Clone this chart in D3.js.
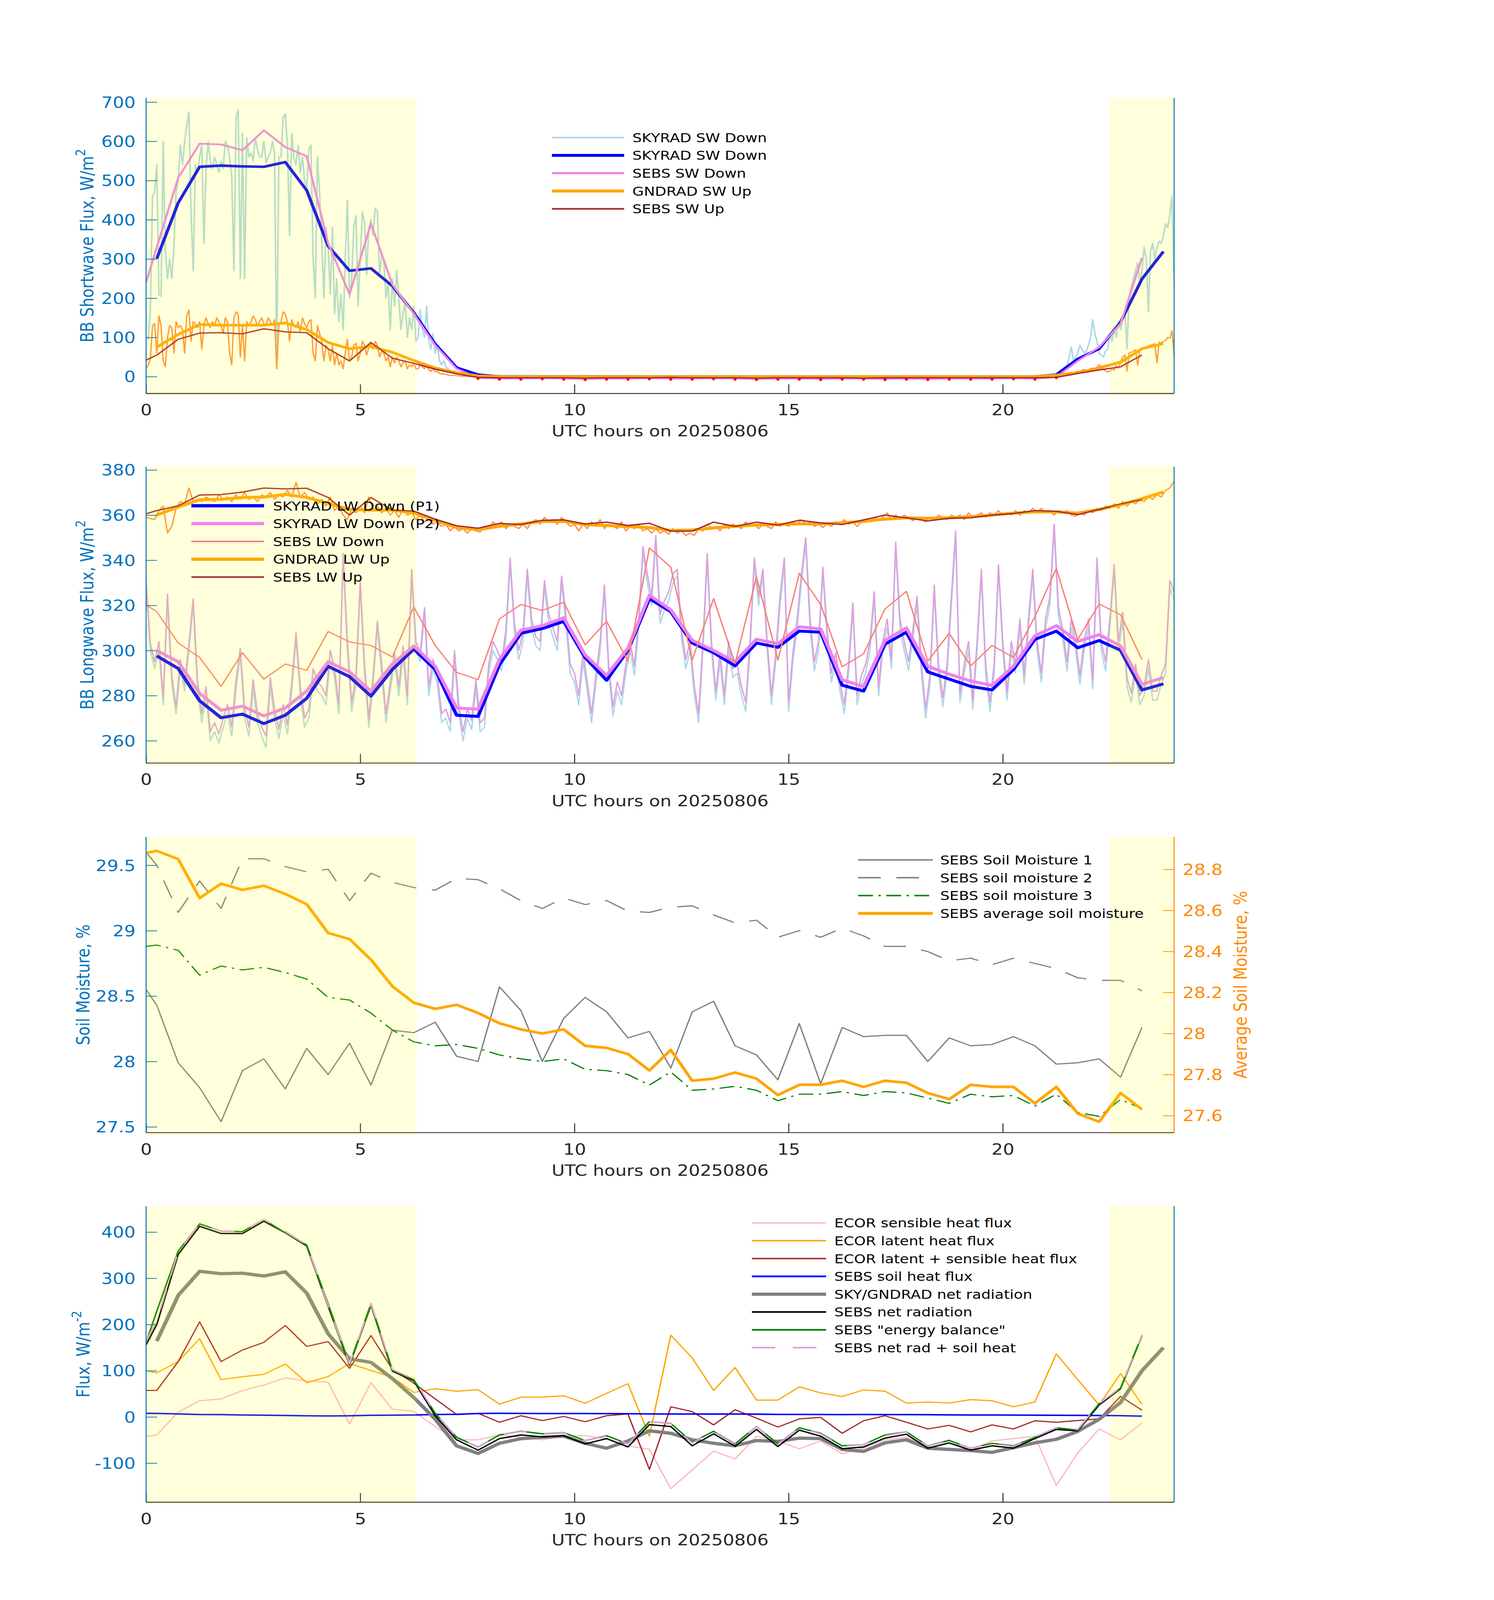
<!DOCTYPE html>
<html>
<head>
<meta charset="utf-8">
<script src="https://cdn.jsdelivr.net/npm/d3@7"></script>
<style>
  html, body { margin: 0; padding: 0; background: #fff; overflow: hidden; }
  svg { display: block; }
  text { font-family: "DejaVu Sans", sans-serif; }
</style>
</head>
<body>
<svg id="fig"></svg>
<script>
// ---------- time grids ----------
const halfHours = d3.range(0.25, 24, 0.5);                // 0.25 .. 23.75 (48)
const sebsHours = [0].concat(d3.range(0.25, 23.5, 0.5));  // 0, 0.25 .. 23.25 (48)
const swDayHours = d3.range(0, 151).map(i => i * 0.05);     // 0 .. 7.5
const swEveHours = d3.range(0, 61).map(i => 21 + i * 0.05); // 21 .. 24
const lwHours = d3.range(0, 241).map(i => i / 10);          // 0 .. 24

const xTicks = [0, 5, 10, 15, 20];
const shadeSpans = [[0, 6.32], [22.5, 24]];

// ---------- panel 1: shortwave ----------
const skySwDay = [
  100, 95, 170, 460, 470, 540, 210, 205, 600, 320, 250, 300, 250, 330, 470, 500, 590, 540, 600, 640,
  675, 420, 270, 540, 520, 560, 590, 340, 530, 600, 550, 530, 560, 540, 520, 550, 530, 600, 590, 560,
  510, 270, 660, 680, 250, 620, 250, 610, 560, 570, 550, 610, 580, 560, 560, 600, 545, 560, 570, 600,
  570, 30, 560, 560, 660, 670, 590, 360, 620, 560, 540, 590, 520, 560, 500, 480, 580, 590, 300, 200,
  560, 470, 350, 200, 380, 330, 210, 380, 160, 250, 140, 210, 120, 300, 450, 200, 250, 380, 410, 180,
  300, 420, 390, 260, 380, 400, 360, 430, 420, 260, 310, 300, 200, 240, 120, 250, 180, 270, 200, 120,
  160, 190, 100, 150, 120, 180, 90, 100, 170, 120, 100, 180, 90, 70, 110, 60, 80, 40, 30, 40,
  25, 20, 15, 12, 15, 10, 8, 6, 5, 4, 3
];
const skySwEve = [
  0, 1, 2, 3, 5, 7, 10, 14, 18, 22, 28, 50, 75, 40, 50, 60, 80, 70, 60, 65,
  80, 100, 145, 110, 90, 60, 55, 50, 65, 70, 110, 90, 120, 100, 140, 120, 150, 170, 72, 200,
  230, 250, 270, 290, 240, 270, 330, 300, 165, 320, 340, 300, 330, 345, 340, 360, 390, 380, 410, 460,
  240
];
const gndSwDay = [
  20, 30, 45, 130, 135, 60, 155, 130, 40, 25, 100, 130, 125, 60, 140, 125, 130, 120, 60, 155,
  170, 90, 140, 135, 125, 140, 70, 130, 150, 135, 125, 140, 130, 150, 140, 130, 110, 150, 140, 60,
  30, 150, 165, 160, 50, 130, 40, 140, 130, 140, 155, 145, 130, 140, 150, 135, 130, 150, 140, 130,
  145, 20, 130, 140, 165, 160, 140, 90, 145, 130, 125, 140, 115, 150, 135, 125, 140, 145, 60, 40,
  130, 110, 90, 40, 80, 70, 40, 80, 30, 60, 30, 40, 20, 60, 95, 40, 50, 80, 85, 40,
  60, 90, 80, 55, 75, 85, 70, 90, 80, 50, 65, 60, 40, 50, 25, 50, 35, 50, 40, 25,
  35, 40, 20, 30, 25, 35, 20, 20, 30, 25, 20, 30, 18, 14, 20, 12, 14, 8, 6, 8,
  5, 4, 3, 3, 3, 2, 2, 1, 1, 1, 0
];
const gndSwEve = [
  0, 0, 1, 1, 2, 2, 3, 4, 5, 6, 7, 9, 11, 10, 12, 14, 13, 16, 18, 15,
  17, 20, 22, 18, 24, 30, 27, 20, 14, 12, 14, 20, 16, 28, 22, 35, 50, 55, 14, 60,
  62, 65, 68, 29, 70, 72, 74, 76, 78, 80, 82, 84, 35, 88, 86, 90, 92, 100, 98, 117,
  56
];
const skySw30 = [
  301, 443, 535, 538, 536, 535, 547, 475, 333, 270, 276, 231, 163, 83, 23, 5,
  0, 0, 0, 0, 0, 0, 0, 0, 0, 0, 0, 0, 0, 0, 0, 0, 0, 0, 0, 0, 0, 0, 0, 0, 0, 0,
  5, 45, 71, 139, 249, 319
];
const sebsSwDown = [
  240, 330, 507, 594, 592, 577, 628, 585, 562, 340, 210, 390, 235, 160, 80, 20, -3,
  -5, -5, -4, -5, -6, -5, -5, -4, -5, -5, -4, -5, -6, -5, -5, -6, -5, -5, -6, -5, -6, -5, -5, -5, -4, -5,
  -1, 40, 75, 135, 303
];
const gndSw30 = [
  75, 108, 133, 131, 131, 131, 137, 120, 87, 71, 77, 62, 41, 22, 10, 2,
  0, 0, 0, 0, 0, 0, 0, 0, 0, 0, 0, 0, 0, 0, 0, 0, 0, 0, 0, 0, 0, 0, 0, 0, 0, 0,
  4, 10, 22, 37, 71, 84
];
const sebsSwUp = [
  42, 55, 95, 111, 112, 109, 122, 114, 112, 71, 40, 87, 47, 34, 19, 7, -2,
  -3, -3, -3, -3, -4, -3, -3, -3, -2, -3, -3, -3, -4, -3, -3, -3, -3, -4, -3, -3, -3, -3, -3, -3, -3, -3,
  -2, 8, 17, 25, 55
];

// ---------- panel 2: longwave ----------
const skyLwP1min = [
  328, 300, 292, 300, 276, 322, 285, 272, 292, 282,
  300, 320, 283, 268, 280, 260, 264, 259, 266, 272,
  262, 283, 298, 270, 262, 283, 268, 262, 257, 284,
  270, 261, 272, 263, 282, 305, 280, 266, 270, 288,
  282, 280, 276, 296, 288, 272, 340, 300, 273, 285,
  328, 290, 266, 285, 310, 290, 268, 282, 295, 280,
  298, 276, 333, 300, 295, 316, 280, 292, 285, 268,
  270, 264, 296, 272, 260, 270, 265, 283, 264, 266,
  290, 300, 296, 291, 305, 338, 308, 296, 304, 333,
  310, 302, 300, 328, 312, 306, 300, 330, 312, 290,
  286, 276, 295, 282, 268, 285, 300, 326, 290, 271,
  282, 276, 290, 300, 289, 310, 343, 330, 320, 348,
  312, 318, 322, 330, 333, 305, 292, 300, 280, 268,
  300, 340, 300, 278, 295, 276, 300, 288, 290, 280,
  273, 300, 338, 320, 333, 300, 276, 295, 320, 338,
  273, 295, 310, 330, 347, 310, 291, 300, 334, 305,
  286, 295, 282, 272, 290, 318, 276, 285, 290, 300,
  323, 280, 300, 310, 292, 345, 310, 300, 291, 305,
  320, 290, 270, 285, 326, 290, 275, 290, 320, 350,
  277, 290, 300, 274, 300, 333, 290, 273, 290, 335,
  300, 278, 300, 290, 310, 285, 310, 333, 300, 286,
  310, 320, 353, 315, 305, 291, 310, 300, 285, 300,
  310, 283, 338, 300, 291, 310, 335, 300, 313, 284,
  277, 290, 276, 280, 292, 278, 278, 285, 290, 328,
  322
];
const skyLwP2min = [
  331, 303, 295, 304, 279, 325, 289, 275, 296, 285,
  303, 323, 287, 272, 284, 264, 268, 263, 270, 276,
  266, 287, 301, 274, 266, 287, 272, 266, 262, 288,
  274, 265, 276, 267, 286, 308, 284, 270, 274, 292,
  286, 284, 280, 300, 292, 276, 343, 304, 277, 289,
  331, 294, 270, 289, 313, 294, 272, 286, 299, 284,
  302, 280, 336, 304, 299, 319, 284, 296, 289, 272,
  274, 268, 300, 276, 264, 274, 269, 287, 268, 270,
  294, 304, 300, 295, 309, 341, 312, 300, 308, 336,
  314, 306, 304, 331, 316, 310, 304, 333, 316, 294,
  290, 280, 299, 286, 272, 289, 304, 329, 294, 275,
  286, 280, 294, 304, 293, 314, 346, 334, 324, 351,
  316, 322, 326, 334, 336, 309, 296, 304, 284, 272,
  304, 343, 304, 282, 299, 280, 304, 292, 294, 284,
  277, 304, 341, 324, 336, 304, 280, 299, 324, 341,
  277, 299, 314, 334, 350, 314, 295, 304, 337, 309,
  290, 299, 286, 276, 294, 321, 280, 289, 294, 304,
  326, 284, 304, 314, 296, 348, 314, 304, 295, 309,
  324, 294, 274, 289, 329, 294, 279, 294, 324, 353,
  281, 294, 304, 278, 304, 336, 294, 277, 294, 338,
  304, 282, 304, 294, 314, 289, 314, 336, 304, 290,
  314, 324, 356, 319, 309, 295, 314, 304, 289, 304,
  314, 287, 341, 304, 295, 314, 338, 304, 317, 288,
  281, 294, 280, 284, 296, 282, 282, 289, 294, 331,
  326
];
const gndLwMin = [
  359, 358.5, 358, 362, 364, 352, 355, 363, 366, 365,
  372, 366, 367, 366, 368, 367, 366, 369, 367, 368,
  366, 369, 367, 370, 367, 368, 366, 369, 368, 370,
  367, 369, 368, 371, 368, 374.5, 368, 370, 367, 368,
  365, 367, 364, 368, 362, 364, 360, 358, 363, 361,
  364, 361, 368, 362, 364, 361, 363, 360, 362, 359,
  363, 360, 361, 358, 360, 357, 358, 356, 357, 355,
  356, 353, 355, 353, 354, 352, 354, 353, 352.5, 355,
  354, 357, 355, 357, 354, 356, 355, 354, 356, 354,
  357, 358, 356, 359, 357, 358, 356, 359, 357, 355,
  356, 353, 356, 354, 357, 355, 358, 354, 356, 355,
  354, 357, 353, 355, 354, 356, 353, 354, 352, 354,
  352, 353, 351.5, 354, 352, 353, 351, 352, 351, 354,
  353, 356, 354, 355, 353, 356, 354, 356, 355, 354,
  357, 355, 356, 354, 356, 355, 354, 357, 355, 356,
  355, 357, 356, 358, 356, 357, 355, 356, 354.5, 356,
  355, 357, 356, 358, 356, 357, 355, 357, 358, 357,
  359, 358, 359, 361, 358, 360, 358, 360, 359, 357.5,
  359, 358, 357, 359, 358, 360, 359, 358, 360, 359,
  360, 358, 361, 359, 360, 361, 359, 361, 360, 362,
  360, 361, 360, 362, 360, 362, 361, 363, 361, 363,
  361, 362, 360, 362, 361, 362, 360, 359.5, 361, 360,
  362, 361, 363, 362, 364, 363, 365, 363, 366, 364,
  366, 365, 367, 366, 368, 367, 369, 368, 371, 372,
  375
];
const skyLwP1 = [
  297.6, 292, 277.7, 270.2, 271.8, 267.6, 271.3, 278.8, 293, 288.4,
  279.8, 291.6, 300.6, 291.6, 271.3, 270.8, 293.7, 307.6, 309.7, 312.9,
  296.9, 286.8, 300.1, 323, 317.2, 303.3, 299, 293.2, 303.3, 301.4,
  308.6, 308.1, 284.6, 282, 302.8, 308.1, 290.5, 287.3, 284.1, 282.5,
  291.6, 304.9, 308.6, 301.2, 304.4, 300.1, 282.5, 285.2
];
const skyLwP2 = [
  300, 295, 281, 273.5, 275.3, 271, 274.5, 282, 295, 290.5,
  282, 294, 302, 293, 274.5, 274, 296, 309, 311, 314.5,
  298, 289, 301, 324.5, 318, 304.5, 300, 295, 305, 303,
  310.5, 309.5, 287, 284, 304.5, 310, 293, 289.5, 286.5, 284.5,
  293, 306.5, 311, 304, 307, 302, 285, 288
];
const sebsLwDown = [
  320.2, 317.2, 303.3, 296.9, 284.1, 299, 287.3, 294, 291.2, 308.4,
  303.8, 302.2, 297.1, 319.3, 302.2, 290.3, 287.1, 314, 320.4, 317.7,
  321.4, 302.5, 312.9, 295.3, 345.4, 336.9, 295.8, 323, 294.2, 332.6,
  295.8, 334.2, 320.4, 292.8, 298.5, 318.4, 326.2, 295.3, 307.6, 293.2,
  302.2, 296.9, 315, 336.4, 304.9, 320.6, 315.9, 296
];
const gndLwUp = [
  360, 363.6, 366.8, 367, 367.8, 368, 369.2, 367.8, 365.2, 362.5,
  362.2, 362.2, 360.9, 357.7, 354.5, 353.6, 355, 356.1, 357.2, 357.2,
  355.8, 355.4, 354.9, 354.5, 353.2, 353.4, 354.3, 355, 355.6, 355.8,
  356.1, 356.1, 356.6, 357.2, 358.2, 358.8, 358.6, 358.8, 359.3, 360,
  360.9, 361.4, 361.4, 360.9, 362.5, 364.6, 367.3, 370.3
];
const sebsLwUp = [
  360.6, 362, 364.1, 368.9, 369.1, 370.2, 372, 371.6, 371.9, 367.8,
  360, 367.8, 362.2, 361.8, 358.2, 355.3, 354.2, 356.3, 355.8, 357.7,
  357.9, 356.1, 356.9, 355.4, 356.4, 352.9, 352.9, 356.9, 355, 356.9,
  355.6, 357.7, 356.6, 355.8, 357.9, 360, 358.8, 357.4, 358.6, 358.8,
  360, 360.7, 362, 361.7, 360.2, 362.5, 365, 366.8
];

// ---------- panel 3: soil moisture ----------
const soilMoist1 = [
  28.55, 28.43, 27.99, 27.80, 27.54, 27.93, 28.02, 27.79, 28.10, 27.90,
  28.14, 27.82, 28.24, 28.22, 28.30, 28.04, 28.00, 28.57, 28.39, 28.00,
  28.33, 28.49, 28.38, 28.18, 28.23, 27.95, 28.38, 28.46, 28.12, 28.05,
  27.86, 28.29, 27.83, 28.26, 28.19, 28.20, 28.20, 28.00, 28.18, 28.12,
  28.13, 28.19, 28.12, 27.98, 27.99, 28.02, 27.88, 28.26
];
const soilMoist2 = [
  29.60, 29.50, 29.14, 29.38, 29.17, 29.55, 29.55, 29.49, 29.45, 29.47,
  29.23, 29.44, 29.37, 29.33, 29.31, 29.40, 29.39, 29.32, 29.23, 29.17,
  29.25, 29.20, 29.23, 29.15, 29.14, 29.18, 29.19, 29.12, 29.06, 29.08,
  28.95, 29.00, 28.95, 29.02, 28.96, 28.88, 28.88, 28.84, 28.77, 28.79,
  28.74, 28.79, 28.75, 28.71, 28.64, 28.62, 28.62, 28.54
];
const soilMoist3 = [
  28.88, 28.89, 28.85, 28.66, 28.73, 28.70, 28.72, 28.68, 28.63, 28.49,
  28.47, 28.37, 28.24, 28.15, 28.12, 28.13, 28.10, 28.05, 28.02, 28.00,
  28.02, 27.94, 27.93, 27.90, 27.82, 27.92, 27.78, 27.79, 27.81, 27.78,
  27.70, 27.75, 27.75, 27.77, 27.74, 27.77, 27.76, 27.72, 27.68, 27.75,
  27.73, 27.74, 27.66, 27.75, 27.61, 27.58, 27.71, 27.64
];
const soilMoistAvg = [
  28.88, 28.89, 28.85, 28.66, 28.73, 28.70, 28.72, 28.68, 28.63, 28.49,
  28.46, 28.36, 28.23, 28.15, 28.12, 28.14, 28.10, 28.05, 28.02, 28.00,
  28.02, 27.94, 27.93, 27.90, 27.82, 27.92, 27.77, 27.78, 27.81, 27.78,
  27.70, 27.75, 27.75, 27.77, 27.74, 27.77, 27.76, 27.71, 27.68, 27.75,
  27.74, 27.74, 27.66, 27.74, 27.61, 27.57, 27.71, 27.63
];

// ---------- panel 4: energy fluxes ----------
const ecorSensible = [
  -42.7, -39, 10.4, 35, 39, 57, 69, 84.4, 78, 75.5,
  -15.6, 74, 16.7, 12, -20.8, -49.5, -49.5, -39, -44, -49.5,
  -41.7, -40.6, -46.9, -62.5, -70.3, -155.2, -114.6, -74, -91, -41.7,
  -52, -69, -52, -79.7, -67.7, -49.5, -44, -62.5, -49.5, -72.9,
  -52, -46.9, -41.7, -148.4, -78, -26, -49.5, -13
];
const ecorLatent = [
  100, 95.3, 119.8, 169.3, 80.7, 87, 92.2, 114.6, 74, 87.5,
  115.6, 100.5, 86, 53, 61, 55.7, 58.9, 27.6, 42.7, 42.7,
  45.8, 29.7, 51, 71.9, -41.7, 177, 127.6, 57.3, 106.8, 36.5,
  36.5, 65, 52, 44.3, 58.3, 55.7, 30, 32.3, 30, 37.5,
  35, 21.9, 32.3, 136.5, 80.7, 26, 93.8, 27.1
];
const ecorLatSens = [
  57.3, 57.3, 119.8, 205.7, 119.8, 144.8, 161.5, 197.9, 152.6, 163,
  105.2, 176, 103.1, 72.9, 39, 5.2, 7.8, -11.5, 2.6, -7.8,
  1, -10.4, 2.6, 6.3, -113.5, 21.9, 11.5, -17.2, 15.6, -2.6,
  -21.9, -4.2, -1, -35.4, -8.3, 2.6, -11.5, -26, -18.2, -32.3,
  -17.2, -26, -8.3, -11.5, -7.8, -4.2, 44.3, 14.6
];
const sebsSoilHeat = [
  7.8, 7.5, 6.5, 5.2, 5, 4.2, 3.8, 3.1, 2.6, 2.1,
  2.6, 3.6, 3.8, 4.2, 5.2, 5.7, 7.3, 7.8, 7.5, 7.3,
  7.3, 7.3, 7.2, 7.0, 6.5, 6.3, 6.3, 6.2, 6.3, 6.0,
  5.5, 5.5, 5.2, 5.0, 5.2, 5.0, 5.0, 4.8, 4.5, 4.2,
  4.2, 4.0, 3.8, 3.6, 3.3, 3.1, 2.8, 1.6
];
const skyGndNetRad = [
  164, 263, 315, 310, 311, 305, 314, 268, 180, 126,
  118, 83, 42, -5, -62.5, -79, -57, -47, -44, -41.7,
  -57, -67.7, -52, -30, -35.4, -49.5, -57, -62.5, -51, -53,
  -45.8, -46.9, -70.3, -74.5, -56, -49.5, -67.7, -70.3, -72.9, -76.6,
  -66.7, -56, -48.4, -31.3, -5, 31.3, 100, 150
];
const sebsNetRad = [
  156, 200, 351.6, 412.5, 396.9, 396.9, 423.4, 398.4, 369.8, 239.6,
  112, 242, 99, 78, 2.6, -49.5, -71.9, -46.9, -39, -43.2,
  -40.6, -58.3, -46.9, -65, -16.7, -20.8, -62.5, -36.5, -63.5, -27,
  -64, -28.6, -41.7, -68.8, -65, -45.8, -37.5, -67.7, -56.3, -71.9,
  -62.5, -67.7, -46.9, -27, -30.2, 26, 61, 176
];
const sebsEnergyBal = [
  161, 229, 359, 417.7, 402, 401, 427, 398.4, 372, 245,
  114.6, 245, 101.6, 80.7, 7.8, -44, -65, -39, -31, -36.5,
  -34, -51, -40.6, -58.3, -10.4, -14, -54.7, -31, -58.3, -20.8,
  -58.3, -23.4, -35.4, -62.5, -60, -39, -32.3, -62.5, -51, -67.7,
  -57.3, -62.5, -44.3, -23.4, -28.6, 28.6, 62.5, 177
];
const sebsNetPlusSoil = [
  164, 208, 358, 417.7, 402, 401, 427, 401.5, 372.4, 241.7,
  114.6, 245.6, 102.8, 82.2, 7.8, -43.8, -64.6, -39.1, -31.5, -35.9,
  -33.3, -51, -39.7, -58, -10.2, -14.5, -56.2, -30.3, -57.2, -21,
  -58.5, -23.1, -36.5, -63.8, -59.8, -40.8, -32.5, -62.9, -51.8, -67.7,
  -58.3, -63.7, -43.1, -23.4, -26.9, 29.1, 63.8, 177.6
];

// ---------- layout (drawn in a 3825x4875 frame, fitted to the window) ----------
const W = 3825, H = 4875;
const plotLeft = 374, plotRight = 3006;
const tickFont = 46, legendFont = 38, legendStep = 54.3;
const blueAx = '#0072bd', orangeAx = '#ff8800', darkAx = '#262626';

const pair = (hs, vs) => hs.map((h, i) => [h, vs[i]]);

const panels = [
  {
    top: 298, bottom: 1199, yDomain: [-43.1, 710.9], yTicks: d3.range(0, 701, 100),
    ylabel: ['BB Shortwave Flux, W/m', '2'], ylabelX: 239,
    legend: { x0: 1413, x1: 1598, tx: 1619, y0: 419 },
    series: [
      { data: pair(swDayHours.concat(swEveHours), skySwDay.concat(skySwEve)), color: '#add8e6', width: 4, label: 'SKYRAD SW Down' },
      { data: pair(swDayHours.concat(swEveHours), gndSwDay.concat(gndSwEve)), color: '#ff9040', width: 3.5 },
      { data: pair(halfHours, skySw30), color: '#0000ff', width: 8, label: 'SKYRAD SW Down' },
      { data: pair(sebsHours, sebsSwDown), color: '#ee82ee', width: 5.5, label: 'SEBS SW Down', negMarks: true },
      { data: pair(halfHours, gndSw30), color: '#ffa500', width: 8, label: 'GNDRAD SW Up' },
      { data: pair(sebsHours, sebsSwUp), color: '#a52a2a', width: 4, label: 'SEBS SW Up' }
    ]
  },
  {
    top: 1422, bottom: 2325, yDomain: [250.1, 381.45], yTicks: d3.range(260, 381, 20),
    ylabel: ['BB Longwave Flux, W/m', '2'], ylabelX: 239,
    legend: { x0: 490, x1: 676, tx: 699, y0: 1541 },
    series: [
      { data: pair(lwHours, skyLwP1min), color: '#add8e6', width: 3.5 },
      { data: pair(lwHours, skyLwP2min), color: '#dda0dd', width: 3.5 },
      { data: pair(lwHours, gndLwMin), color: '#ff9040', width: 3.5 },
      { data: pair(halfHours, skyLwP1), color: '#0000ff', width: 9, label: 'SKYRAD LW Down (P1)' },
      { data: pair(halfHours, skyLwP2), color: '#ee82ee', width: 9, label: 'SKYRAD LW Down (P2)' },
      { data: pair(sebsHours, sebsLwDown), color: '#fa8072', width: 3.5, label: 'SEBS LW Down' },
      { data: pair(halfHours, gndLwUp), color: '#ffa500', width: 9, label: 'GNDRAD LW Up' },
      { data: pair(sebsHours, sebsLwUp), color: '#a52a2a', width: 4, label: 'SEBS LW Up' }
    ]
  },
  {
    top: 2550, bottom: 3451, yDomain: [27.456, 29.717], yTicks: [27.5, 28, 28.5, 29, 29.5],
    ylabel: ['Soil Moisture, %', null], ylabelX: 229,
    right: { domain: [27.517, 28.958], ticks: [27.6, 27.8, 28, 28.2, 28.4, 28.6, 28.8], label: 'Average Soil Moisture, %', labelX: 3192 },
    legend: { x0: 2197, x1: 2388, tx: 2407, y0: 2620 },
    series: [
      { data: pair(sebsHours, soilMoist1), color: '#808080', width: 3.5, label: 'SEBS Soil Moisture 1' },
      { data: pair(sebsHours, soilMoist2), color: '#808080', width: 3.5, dash: '58,40', label: 'SEBS soil moisture 2' },
      { data: pair(sebsHours, soilMoist3), color: '#008000', width: 3.5, dash: '38,14,6,14', label: 'SEBS soil moisture 3' },
      { data: pair(sebsHours, soilMoistAvg), color: '#ffa500', width: 8, right: true, label: 'SEBS average soil moisture' }
    ]
  },
  {
    top: 3675, bottom: 4577, yDomain: [-184.5, 456.1], yTicks: d3.range(-100, 401, 100),
    ylabel: ['Flux, W/m', '-2'], ylabelX: 229,
    legend: { x0: 1925, x1: 2115, tx: 2136, y0: 3726 },
    series: [
      { data: pair(sebsHours, ecorSensible), color: '#ffb6c1', width: 3.5, label: 'ECOR sensible heat flux' },
      { data: pair(sebsHours, ecorLatent), color: '#ffa500', width: 3.5, label: 'ECOR latent heat flux' },
      { data: pair(sebsHours, ecorLatSens), color: '#a52a2a', width: 3.5, label: 'ECOR latent + sensible heat flux' },
      { data: pair(sebsHours, sebsSoilHeat), color: '#0000ff', width: 4.5, label: 'SEBS soil heat flux' },
      { data: pair(halfHours, skyGndNetRad), color: '#808080', width: 10, label: 'SKY/GNDRAD net radiation' },
      { data: pair(sebsHours, sebsNetRad), color: '#000000', width: 4, label: 'SEBS net radiation' },
      { data: pair(sebsHours, sebsEnergyBal), color: '#008000', width: 4, label: 'SEBS "energy balance"' },
      { data: pair(sebsHours, sebsNetPlusSoil), color: '#dda0dd', width: 4, dash: '60,45', label: 'SEBS net rad + soil heat' }
    ]
  }
];

// the window is shorter than the figure, so the full frame is fitted into it
const svg = d3.select('#fig')
  .attr('viewBox', `0 0 ${W} ${H}`)
  .attr('preserveAspectRatio', 'none')
  .attr('width', window.innerWidth || W)
  .attr('height', window.innerHeight || H);
svg.append('rect').attr('width', W).attr('height', H).attr('fill', '#fff');

const x = d3.scaleLinear().domain([0, 24]).range([plotLeft, plotRight]);
const fmt = d => String(+d.toFixed(1));

panels.forEach((p, pi) => {
  const y = d3.scaleLinear().domain(p.yDomain).range([p.bottom, p.top]);
  const yR = p.right ? d3.scaleLinear().domain(p.right.domain).range([p.bottom, p.top]) : null;
  const g = svg.append('g');

  const clipId = 'clip' + pi;
  svg.append('clipPath').attr('id', clipId).append('rect')
    .attr('x', plotLeft).attr('y', p.top).attr('width', plotRight - plotLeft).attr('height', p.bottom - p.top);

  const lines = g.append('g').attr('clip-path', `url(#${clipId})`);
  p.series.forEach(s => {
    const ys = s.right ? yR : y;
    const line = d3.line().x(d => x(d[0])).y(d => ys(d[1]));
    lines.append('path').attr('d', line(s.data))
      .attr('fill', 'none').attr('stroke', s.color).attr('stroke-width', s.width)
      .attr('stroke-linejoin', 'round').attr('stroke-dasharray', s.dash || null);
    if (s.negMarks) {
      lines.selectAll(null).data(s.data.filter(d => d[1] < 0)).enter().append('ellipse')
        .attr('cx', d => x(d[0])).attr('cy', d => ys(d[1]))
        .attr('rx', 4).attr('ry', 7).attr('fill', '#ff0000');
    }
  });

  // axes (ticks inward)
  const ax = g.append('g').attr('transform', `translate(${plotLeft},0)`)
    .call(d3.axisLeft(y).tickValues(p.yTicks).tickFormat(fmt).tickSizeInner(-28).tickSizeOuter(0).tickPadding(27));
  ax.select('.domain').remove();
  ax.selectAll('line').attr('stroke', blueAx).attr('stroke-width', 2.5);
  ax.selectAll('text').attr('fill', blueAx).attr('font-size', tickFont)
    .attr('font-family', '"DejaVu Sans", sans-serif').attr('dy', '0.36em');

  const bx = g.append('g').attr('transform', `translate(0,${p.bottom})`)
    .call(d3.axisBottom(x).tickValues(xTicks).tickFormat(d3.format('d')).tickSizeInner(-28).tickSizeOuter(0).tickPadding(34));
  bx.select('.domain').remove();
  bx.selectAll('line').attr('stroke', darkAx).attr('stroke-width', 2.5);
  bx.selectAll('text').attr('fill', darkAx).attr('font-size', tickFont)
    .attr('font-family', '"DejaVu Sans", sans-serif');

  if (p.right) {
    const rx = g.append('g').attr('transform', `translate(${plotRight},0)`)
      .call(d3.axisRight(yR).tickValues(p.right.ticks).tickFormat(fmt).tickSizeInner(-28).tickSizeOuter(0).tickPadding(22));
    rx.select('.domain').remove();
    rx.selectAll('line').attr('stroke', orangeAx).attr('stroke-width', 2.5);
    rx.selectAll('text').attr('fill', orangeAx).attr('font-size', tickFont)
      .attr('font-family', '"DejaVu Sans", sans-serif').attr('dy', '0.36em');
  }

  // shaded spans (translucent yellow over data)
  g.selectAll(null).data(shadeSpans).enter().append('rect')
    .attr('x', d => x(d[0])).attr('width', d => x(d[1]) - x(d[0]))
    .attr('y', p.top).attr('height', p.bottom - p.top + 8)
    .attr('fill', '#ffff00').attr('fill-opacity', 0.14);

  // spines
  g.append('line').attr('x1', plotLeft).attr('x2', plotLeft).attr('y1', p.top).attr('y2', p.bottom)
    .attr('stroke', blueAx).attr('stroke-width', 2.5);
  g.append('line').attr('x1', plotRight).attr('x2', plotRight).attr('y1', p.top).attr('y2', p.bottom)
    .attr('stroke', p.right ? orangeAx : blueAx).attr('stroke-width', 2.5);
  g.append('line').attr('x1', plotLeft).attr('x2', plotRight).attr('y1', p.bottom).attr('y2', p.bottom)
    .attr('stroke', darkAx).attr('stroke-width', 2.5);

  // axis labels
  g.append('text').attr('x', (plotLeft + plotRight) / 2).attr('y', p.bottom + 131)
    .attr('text-anchor', 'middle').attr('font-size', tickFont).attr('fill', darkAx)
    .text('UTC hours on 20250806');

  const cy = (p.top + p.bottom) / 2;
  const yl = g.append('text').attr('transform', `translate(${p.ylabelX},${cy}) rotate(-90)`)
    .attr('text-anchor', 'middle').attr('font-size', tickFont).attr('fill', blueAx);
  yl.append('tspan').text(p.ylabel[0]);
  if (p.ylabel[1]) yl.append('tspan').attr('dy', -21).attr('font-size', 34).text(p.ylabel[1]);

  if (p.right) {
    g.append('text').attr('transform', `translate(${p.right.labelX},${cy}) rotate(-90)`)
      .attr('text-anchor', 'middle').attr('font-size', tickFont).attr('fill', orangeAx)
      .text(p.right.label);
  }

  // legend (no box)
  const items = p.series.filter(s => s.label);
  const lg = g.append('g');
  items.forEach((s, i) => {
    const ry = p.legend.y0 + i * legendStep;
    lg.append('line').attr('x1', p.legend.x0).attr('x2', p.legend.x1).attr('y1', ry).attr('y2', ry)
      .attr('stroke', s.color).attr('stroke-width', Math.min(s.width + 1, 10))
      .attr('stroke-dasharray', s.dash || null);
    lg.append('text').attr('x', p.legend.tx).attr('y', ry + 14)
      .attr('font-size', legendFont).attr('fill', '#000').text(s.label);
  });
});
</script>
</body>
</html>
